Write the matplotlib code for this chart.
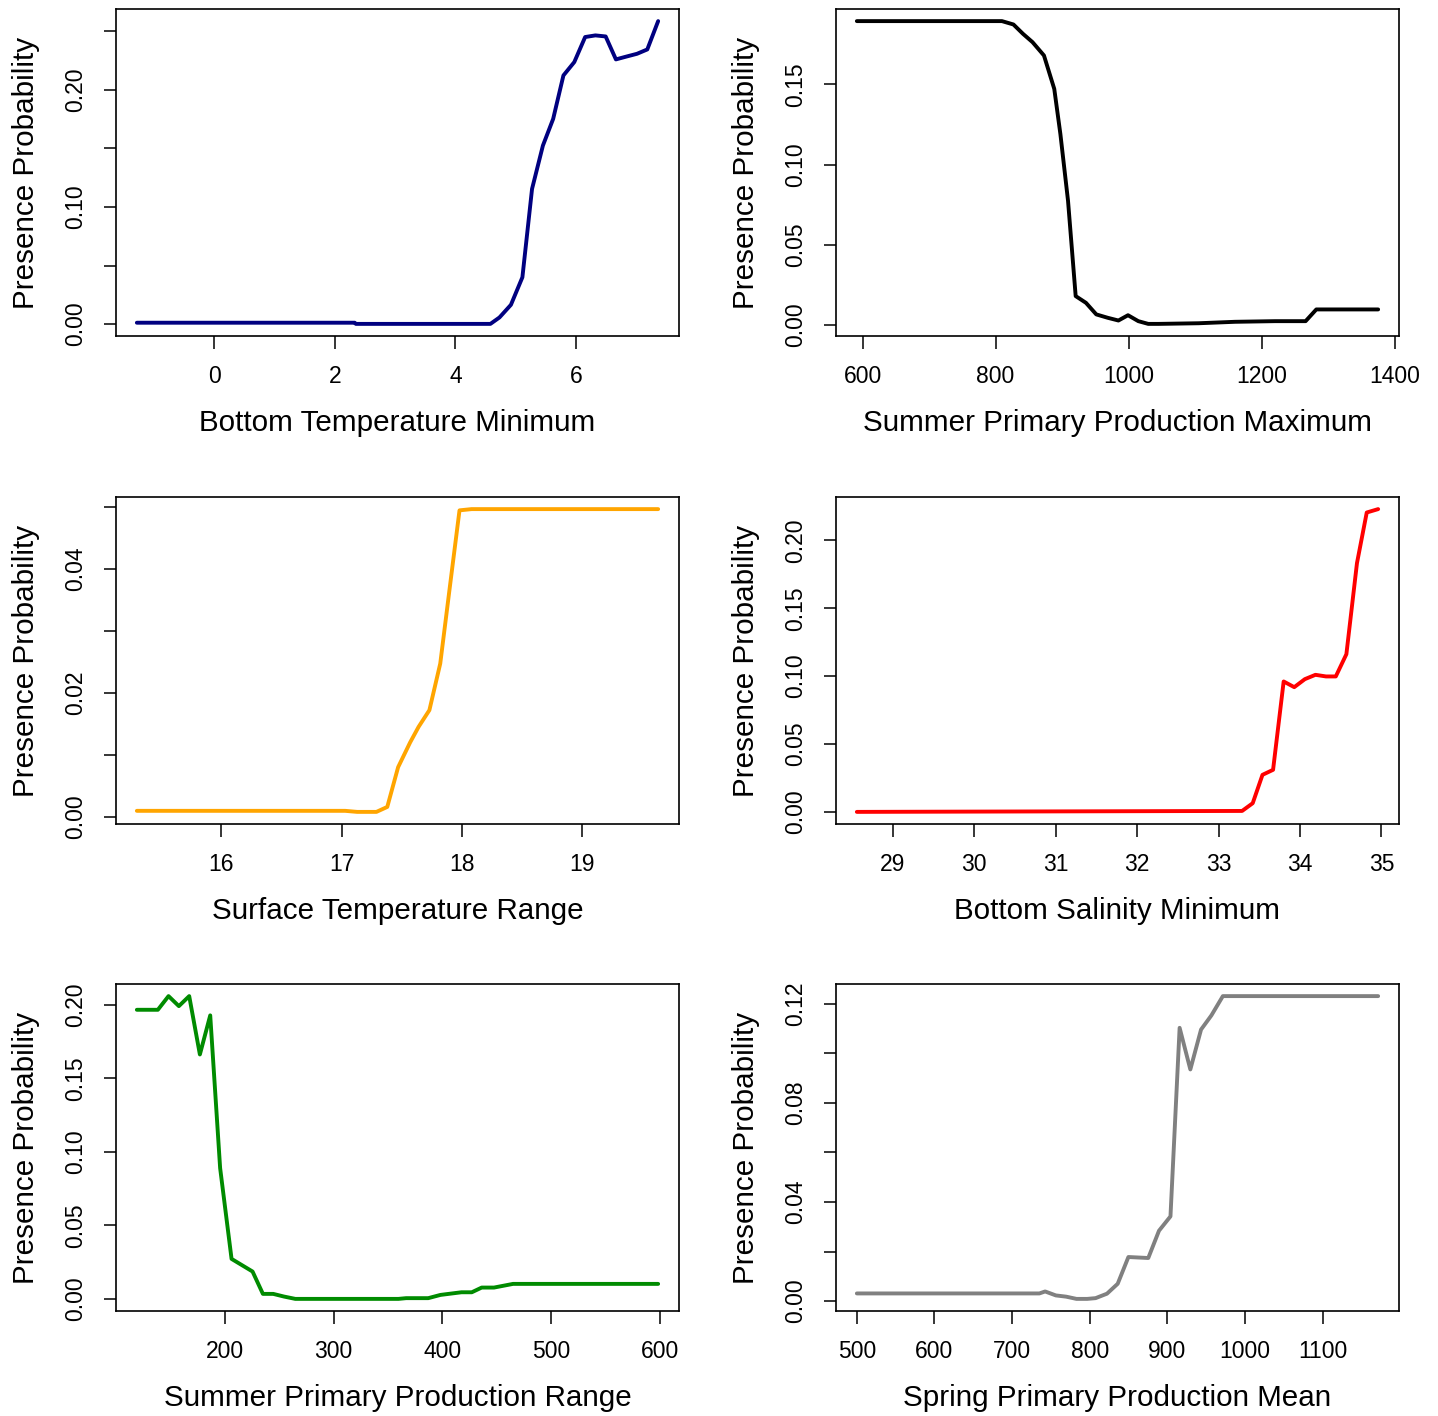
import matplotlib.pyplot as plt

plt.rcParams['font.family'] = ['Liberation Sans', 'DejaVu Sans']

# panel 1: bottom temperature minimum
bt_x = [-1.28, 2.33, 2.35, 4.58, 4.73, 4.92, 5.11, 5.27, 5.45, 5.62, 5.79, 5.97,
        6.15, 6.32, 6.49, 6.66, 6.84, 7.01, 7.18, 7.36]
bt_y = [0.0012, 0.0012, 0.0002, 0.0002, 0.0057, 0.0165, 0.040, 0.1155, 0.1525, 0.1753,
        0.2124, 0.2238, 0.2452, 0.2466, 0.2457, 0.2261, 0.2286, 0.2309, 0.2346, 0.2588]

# panel 2: summer primary production maximum
spmax_x = [591.4, 809.6, 826.9, 841.2, 855.6, 872.8, 888.3, 897.5, 909.0, 920.5, 936.0,
           951.5, 968.7, 984.8, 999.2, 1014.7, 1029.6, 1045.1, 1105.4, 1160.0, 1220.3,
           1266.3, 1282.4, 1375.4]
spmax_y = [0.1893, 0.1893, 0.1872, 0.1814, 0.1762, 0.1679, 0.1471, 0.119, 0.0774, 0.0181,
           0.0139, 0.0067, 0.0046, 0.0029, 0.0062, 0.0025, 0.0008, 0.0008, 0.0012, 0.0021,
           0.0025, 0.0025, 0.0098, 0.0098]

# panel 3: surface temperature range
str_x = [15.30, 17.03, 17.13, 17.29, 17.38, 17.47, 17.57, 17.64, 17.73, 17.82, 17.90,
         17.98, 18.08, 19.63]
str_y = [0.00097, 0.00097, 0.0008, 0.0008, 0.0016, 0.0080, 0.0120, 0.0145, 0.0172,
         0.0247, 0.0371, 0.0494, 0.0496, 0.0496]

# panel 4: bottom salinity minimum
bs_x = [28.56, 33.29, 33.42, 33.54, 33.67, 33.80, 33.93, 34.06, 34.19, 34.32, 34.44,
        34.57, 34.70, 34.82, 34.96]
bs_y = [0.0, 0.0007, 0.0064, 0.0273, 0.031, 0.0961, 0.0919, 0.0978, 0.1010, 0.0998,
        0.0998, 0.1162, 0.1833, 0.2206, 0.2231]

# panel 5: summer primary production range
spr_x = [119.3, 138.6, 148.4, 157.9, 167.4, 177.2, 186.7, 195.8, 206.3, 225.6, 235.1,
         244.6, 254.4, 264.9, 359.6, 366.7, 387.0, 398.2, 417.5, 427.0, 436.1, 447.4,
         464.9, 598.2]
spr_y = [0.1966, 0.1966, 0.2059, 0.1991, 0.2059, 0.1662, 0.1928, 0.089, 0.0272, 0.0186,
         0.0034, 0.0034, 0.0016, 0.0, 0.0, 0.0005, 0.0005, 0.0027, 0.0045, 0.0045,
         0.0077, 0.0077, 0.0102, 0.0102]

# panel 6: spring primary production mean
spm_x = [500.0, 735.2, 742.6, 756.4, 769.7, 783.0, 796.8, 807.6, 822.3, 836.1, 849.9,
         875.5, 889.3, 904.1, 915.9, 929.7, 943.5, 956.8, 971.6, 1171.7]
spm_y = [0.0031, 0.0031, 0.0039, 0.0023, 0.0018, 0.0009, 0.0009, 0.0012, 0.0030, 0.0070,
         0.0178, 0.0174, 0.0284, 0.0342, 0.1103, 0.0935, 0.1096, 0.1153, 0.1231, 0.1231]

titles = ["Bottom Temperature Minimum", "Summer Primary Production Maximum",
          "Surface Temperature Range", "Bottom Salinity Minimum",
          "Summer Primary Production Range", "Spring Primary Production Mean"]
colors = ["#000080", "black", "orange", "red", "#008B00", "#808080"]

xticks = [[0, 2, 4, 6], [600, 800, 1000, 1200, 1400], [16, 17, 18, 19],
          [29, 30, 31, 32, 33, 34, 35], [200, 300, 400, 500, 600],
          [500, 600, 700, 800, 900, 1000, 1100]]
yticks = [[0, 0.05, 0.10, 0.15, 0.20, 0.25], [0, 0.05, 0.10, 0.15],
          [0, 0.01, 0.02, 0.03, 0.04, 0.05], [0, 0.05, 0.10, 0.15, 0.20],
          [0, 0.05, 0.10, 0.15, 0.20], [0, 0.02, 0.04, 0.06, 0.08, 0.10, 0.12]]
ylabels = [["0.00", "", "0.10", "", "0.20", ""],
           ["0.00", "0.05", "0.10", "0.15"],
           ["0.00", "", "0.02", "", "0.04", ""],
           ["0.00", "0.05", "0.10", "0.15", "0.20"],
           ["0.00", "0.05", "0.10", "0.15", "0.20"],
           ["0.00", "", "0.04", "", "0.08", "", "0.12"]]

xs = [bt_x, spmax_x, str_x, bs_x, spr_x, spm_x]
ys = [bt_y, spmax_y, str_y, bs_y, spr_y, spm_y]

W, H = 1438, 1416
fig = plt.figure(figsize=(W / 100, H / 100), dpi=100)

lefts = [116, 836]
tops = [9, 497, 984]
bw, bh = 563, 327

for i in range(6):
    r, c = divmod(i, 2)
    ax = fig.add_axes([lefts[c] / W, 1 - (tops[r] + bh) / H, bw / W, bh / H])
    ax.plot(xs[i], ys[i], color=colors[i], lw=2.8,
            solid_capstyle='round', solid_joinstyle='round')
    ax.margins(x=0.04, y=0.04)
    ax.set_xticks(xticks[i])
    ax.set_xticklabels([str(v) for v in xticks[i]])
    ax.set_yticks(yticks[i])
    ax.set_yticklabels(ylabels[i])
    for s in ax.spines.values():
        s.set_linewidth(1.2)
    ax.tick_params(length=9, width=1.1, labelsize=16.5, pad=12)
    ax.tick_params(axis='y', labelrotation=90)
    for t in ax.get_yticklabels():
        t.set_va('center')
    ax.set_xlabel(titles[i], fontsize=21.3, va='center')
    ax.xaxis.set_label_coords(0.5, -0.265)
    ax.set_ylabel("Presence Probability", fontsize=21.3, va='center')
    ax.yaxis.set_label_coords(-0.16, 0.5)

fig.savefig("out.png", dpi=100)
